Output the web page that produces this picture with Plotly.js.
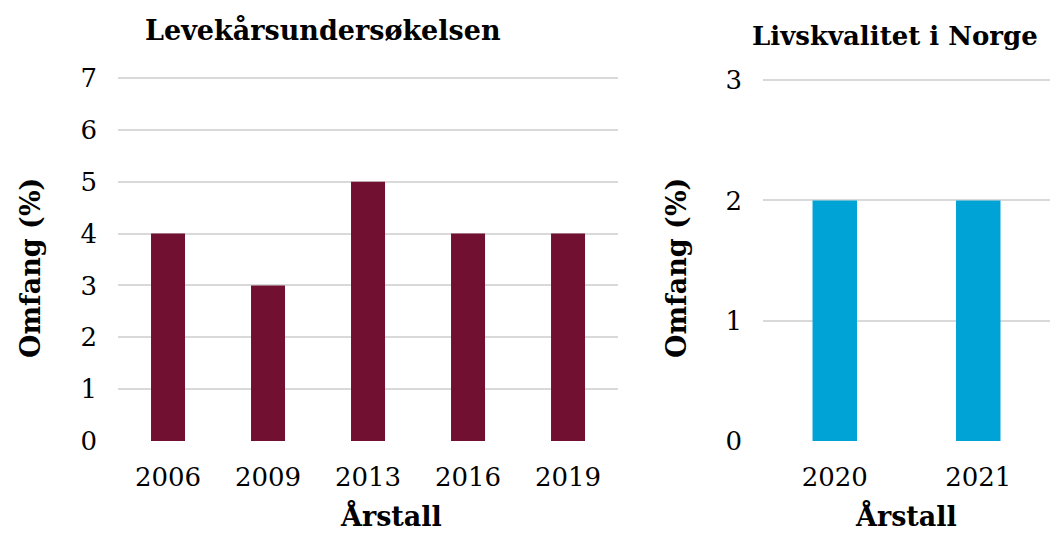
<!DOCTYPE html>
<html>
<head>
<meta charset="utf-8">
<script src="https://cdn.plot.ly/plotly-3.0.1.min.js"></script>
<style>
  html, body { margin: 0; padding: 0; background: #fff; }
  #chart { width: 1050px; height: 533px; }
</style>
</head>
<body>
<div id="chart"></div>
<script>
// Levekårsundersøkelsen
const lkYears = ['2006', '2009', '2013', '2016', '2019'];
const lkValues = [4, 3, 5, 4, 4];

// Livskvalitet i Norge
const lkiYears = ['2020', '2021'];
const lkiValues = [2, 2];

const FONT = 'DejaVu Serif, Georgia, serif';
const GRID = '#d9d9d9';

const traces = [
    {
        x: lkYears, y: lkValues, type: 'bar', width: 0.34,
        marker: { color: '#721031' },
        xaxis: 'x', yaxis: 'y', hoverinfo: 'none'
    },
    {
        x: lkiYears, y: lkiValues, type: 'bar', width: 0.31,
        marker: { color: '#00a3d6' },
        xaxis: 'x2', yaxis: 'y2', hoverinfo: 'none'
    }
];

const xBase = {
    type: 'category',
    showgrid: false, zeroline: false, showline: false,
    ticks: '', ticklabelstandoff: 18,
    tickfont: { family: FONT, size: 26, color: '#000' }
};
const yBase = {
    showgrid: true, gridcolor: GRID, gridwidth: 2,
    zeroline: false, showline: false,
    ticks: '', ticklabelstandoff: 20,
    tickfont: { family: FONT, size: 26, color: '#000' }
};

const layout = {
    width: 1050, height: 533,
    margin: { t: 0, b: 0, l: 0, r: 0 },
    paper_bgcolor: '#fff', plot_bgcolor: '#fff',
    showlegend: false,
    xaxis: Object.assign({}, xBase, { domain: [0.1124, 0.5886], anchor: 'y' }),
    yaxis: Object.assign({}, yBase, { domain: [0.1726, 0.8557], range: [0, 7.02], dtick: 1, anchor: 'x' }),
    xaxis2: Object.assign({}, xBase, { domain: [0.7267, 1.0], anchor: 'y2' }),
    yaxis2: Object.assign({}, yBase, { domain: [0.1726, 0.8519], range: [0, 3.01], dtick: 1, anchor: 'x2' }),
    annotations: [
        { text: '<b>Levekårsundersøkelsen</b>', x: 323, y: 30, size: 27 },
        { text: '<b>Livskvalitet i Norge</b>', x: 895, y: 36, size: 26 },
        { text: '<b>Omfang (%)</b>', x: 30, y: 268, textangle: -90 },
        { text: '<b>Omfang (%)</b>', x: 676, y: 268, textangle: -90 },
        { text: '<b>Årstall</b>', x: 391, y: 515 },
        { text: '<b>Årstall</b>', x: 906, y: 515 }
    ].map(a => ({
        text: a.text,
        xref: 'paper', yref: 'paper',
        x: a.x / 1050, y: 1 - a.y / 533,
        xanchor: 'center', yanchor: 'middle',
        textangle: a.textangle || 0,
        showarrow: false,
        font: { family: FONT, size: a.size || 27, color: '#000' }
    }))
};

Plotly.newPlot('chart', traces, layout, { displayModeBar: false, staticPlot: true });
</script>
</body>
</html>
